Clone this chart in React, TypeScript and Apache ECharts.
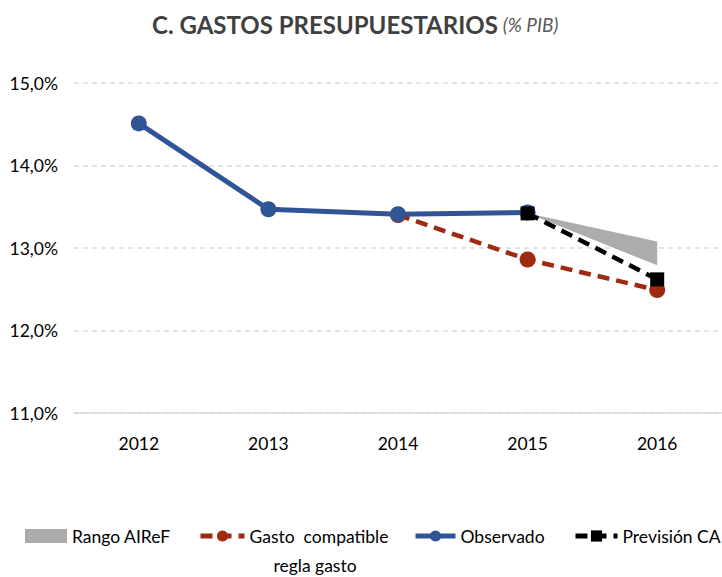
import React, { useEffect, useRef } from "react";
import * as echarts from "echarts";

const years = ["2012", "2013", "2014", "2015", "2016"];
const observado = [14.51, 13.47, 13.41, 13.43, null];
const gastoCompatible = [null, null, 13.4, 12.86, 12.49];
const prevision = [null, null, null, 13.42, 12.62];
const rangoLow = [null, null, null, 13.42, 12.79];
const rangoHigh = [null, null, null, 13.42, 13.08];

const FONT = "Lato";

export default function App() {
  const ref = useRef<HTMLDivElement>(null);
  useEffect(() => {
    document.body.style.margin = "0";
    const chart = echarts.init(ref.current!, null, { renderer: "svg" });
    const band = rangoHigh.map((h, i) =>
      h == null || rangoLow[i] == null ? "-" : +(h - (rangoLow[i] as number)).toFixed(3)
    );
    const toD = (a: (number | null)[]) => a.map((v) => (v == null ? "-" : v));
    const legendBase = {
      top: 527,
      itemHeight: 14,
      padding: 0,
      textStyle: { fontFamily: FONT, fontSize: 17.5, color: "#000" },
      selectedMode: false,
      lineStyle: { width: 5 },
    };
    chart.setOption({
      animation: false,
      title: {
        text: "{b|C. GASTOS PRESUPUESTARIOS} {i|(% PIB)}",
        left: 152,
        top: 12,
        padding: 0,
        textStyle: {
          rich: {
            b: { fontFamily: FONT, fontSize: 24, fontWeight: "bold", color: "#404040" },
            i: { fontFamily: FONT, fontSize: 19, fontStyle: "italic", fontWeight: "normal", color: "#595959" },
          },
        },
      },
      grid: { left: 74, right: 0, top: 83, height: 330 },
      xAxis: {
        type: "category",
        data: years,
        axisLine: { lineStyle: { color: "#d9d9d9", width: 1.5 } },
        axisTick: { show: false },
        axisLabel: { fontFamily: FONT, fontSize: 17.5, color: "#000", margin: 21 },
      },
      yAxis: {
        type: "value",
        min: 11,
        max: 15,
        interval: 1,
        axisLabel: {
          fontFamily: FONT,
          fontSize: 17.5,
          color: "#000",
          margin: 16,
          formatter: (v: number) => v.toFixed(1).replace(".", ",") + "%",
        },
        splitLine: { lineStyle: { color: "#d9d9d9", type: [5, 4], width: 1.5 } },
      },
      legend: [
        { ...legendBase, left: 25, itemWidth: 42, data: [{ name: "Rango AIReF", icon: "rect" }] },
        { ...legendBase, left: 198, itemWidth: 44, data: ["Gasto  compatible"] },
        { ...legendBase, left: 413, itemWidth: 40, data: ["Observado"] },
        { ...legendBase, left: 573, itemWidth: 42, data: ["Previsión CA"] },
      ],
      graphic: [
        {
          type: "text",
          x: 315,
          y: 565,
          style: {
            text: "regla gasto",
            font: `17.5px ${FONT}`,
            fill: "#000",
            textAlign: "center",
            textVerticalAlign: "middle",
          },
        },
      ],
      series: [
        {
          name: "base",
          type: "line",
          stack: "rango",
          data: toD(rangoLow),
          symbol: "none",
          lineStyle: { width: 0 },
          silent: true,
        },
        {
          name: "Rango AIReF",
          type: "line",
          stack: "rango",
          data: band,
          symbol: "none",
          color: "#aeabab",
          lineStyle: { width: 0 },
          areaStyle: { color: "#aeabab", opacity: 1 },
        },
        {
          name: "Gasto  compatible",
          type: "line",
          data: toD(gastoCompatible),
          color: "#9e2a12",
          symbol: "circle",
          symbolSize: 16,
          lineStyle: { width: 4.5, type: [12, 7], color: "#9e2a12" },
          itemStyle: { color: "#9e2a12" },
        },
        {
          name: "Observado",
          type: "line",
          data: toD(observado),
          color: "#2f5597",
          symbol: "circle",
          symbolSize: 16,
          lineStyle: { width: 5, color: "#2f5597" },
          itemStyle: { color: "#2f5597" },
        },
        {
          name: "Previsión CA",
          type: "line",
          data: toD(prevision),
          color: "#000",
          symbol: "rect",
          symbolSize: 14,
          lineStyle: { width: 4.5, type: [12, 7], color: "#000" },
          itemStyle: { color: "#000" },
        },
      ],
    });
    return () => chart.dispose();
  }, []);
  return <div ref={ref} style={{ width: 722, height: 577 }} />;
}
